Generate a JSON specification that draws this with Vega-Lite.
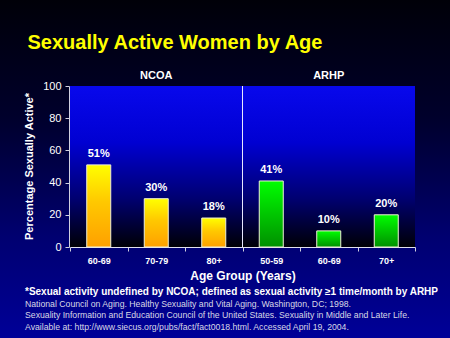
{
  "$schema": "https://vega.github.io/schema/vega-lite/v6.json",
  "width": 450,
  "height": 338,
  "padding": 0,
  "autosize": {"type": "none"},
  "title": {
    "text": "*Sexual activity undefined by NCOA; defined as sexual activity ≥1 time/month by ARHP",
    "subtitle": [
      "National Council on Aging. Healthy Sexuality and Vital Aging. Washington, DC; 1998.",
      "Sexuality Information and Education Council of the United States. Sexuality in Middle and Later Life.",
      "Available at: http://www.siecus.org/pubs/fact/fact0018.html. Accessed April 19, 2004."
    ],
    "orient": "bottom",
    "anchor": "start",
    "frame": "group",
    "offset": -51,
    "dx": 25,
    "font": "Liberation Sans",
    "fontSize": 10,
    "fontWeight": "bold",
    "color": "#ffffff",
    "subtitleFont": "Liberation Sans",
    "subtitleFontSize": 8.7,
    "subtitleColor": "#d8d8e6",
    "subtitleLineHeight": 11.3,
    "subtitlePadding": 3
  },
  "layer": [
    {
      "data": {"values": [{"group": "NCOA"}, {"group": "ARHP"}]},
      "layer": [
        {
          "mark": {
            "type": "rect",
            "fill": {
              "gradient": "linear",
              "x1": 0, "y1": 0, "x2": 0, "y2": 1,
              "stops": [
                {"offset": 0, "color": "#0808ec"},
                {"offset": 0.35, "color": "#0000d2"},
                {"offset": 0.7, "color": "#000070"},
                {"offset": 1, "color": "#000006"}
              ]
            }
          },
          "encoding": {
            "x": {
              "field": "group",
              "type": "nominal",
              "sort": null,
              "scale": {"domain": ["NCOA", "ARHP"], "range": [70, 415], "paddingInner": 0, "paddingOuter": 0},
              "axis": {
                "orient": "top",
                "offset": -86,
                "domain": false,
                "ticks": false,
                "labelAngle": 0,
                "labelPadding": 6,
                "labelFont": "Liberation Sans",
                "labelFontSize": 11,
                "labelFontWeight": "bold",
                "labelColor": "#ffffff",
                "title": "Sexually Active Women by Age",
                "titleFont": "Liberation Sans",
                "titleFontSize": 20,
                "titleFontWeight": "bold",
                "titleColor": "#ffff00",
                "titleX": 27,
                "titleY": -38,
                "titleAlign": "left",
                "titleBaseline": "alphabetic"
              }
            },
            "y": {
              "datum": 0,
              "type": "quantitative",
              "scale": {"domain": [0, 100], "range": [247, 86], "nice": false},
              "axis": {
                "orient": "left",
                "offset": -69,
                "values": [0, 20, 40, 60, 80, 100],
                "grid": false,
                "tickSize": 4,
                "tickColor": "#d0d0e0",
                "domainColor": "#d0d0e0",
                "labelPadding": 4,
                "labelFont": "Liberation Sans",
                "labelFontSize": 11,
                "labelColor": "#ffffff",
                "title": "Percentage Sexually Active*",
                "titleFont": "Liberation Sans",
                "titleFontSize": 11,
                "titleFontWeight": "bold",
                "titleColor": "#ffffff",
                "titleAngle": -90,
                "titleX": -40,
                "titleY": 166,
                "titleBaseline": "middle",
                "titleAlign": "center"
              }
            },
            "y2": {"datum": 100}
          }
        },
        {
          "transform": [{"filter": "datum.group === 'NCOA'"}],
          "mark": {"type": "rule", "color": "#e8e8ff", "strokeWidth": 1},
          "encoding": {
            "x": {
              "field": "group",
              "type": "nominal",
              "sort": null,
              "bandPosition": 1,
              "scale": {"domain": ["NCOA", "ARHP"], "range": [70, 415], "paddingInner": 0, "paddingOuter": 0},
              "axis": {
                "orient": "top",
                "offset": -86,
                "domain": false,
                "ticks": false,
                "labelAngle": 0,
                "labelPadding": 6,
                "labelFont": "Liberation Sans",
                "labelFontSize": 11,
                "labelFontWeight": "bold",
                "labelColor": "#ffffff",
                "title": "Sexually Active Women by Age",
                "titleFont": "Liberation Sans",
                "titleFontSize": 20,
                "titleFontWeight": "bold",
                "titleColor": "#ffff00",
                "titleX": 27,
                "titleY": -38,
                "titleAlign": "left",
                "titleBaseline": "alphabetic"
              }
            },
            "y": {
              "datum": 0,
              "type": "quantitative",
              "scale": {"domain": [0, 100], "range": [247, 86], "nice": false},
              "axis": {
                "orient": "left",
                "offset": -69,
                "values": [0, 20, 40, 60, 80, 100],
                "grid": false,
                "tickSize": 4,
                "tickColor": "#d0d0e0",
                "domainColor": "#d0d0e0",
                "labelPadding": 4,
                "labelFont": "Liberation Sans",
                "labelFontSize": 11,
                "labelColor": "#ffffff",
                "title": "Percentage Sexually Active*",
                "titleFont": "Liberation Sans",
                "titleFontSize": 11,
                "titleFontWeight": "bold",
                "titleColor": "#ffffff",
                "titleAngle": -90,
                "titleX": -40,
                "titleY": 166,
                "titleBaseline": "middle",
                "titleAlign": "center"
              }
            },
            "y2": {"datum": 100}
          }
        }
      ]
    },
    {
      "data": {
        "values": [
          {"cat": "NCOA|60-69", "group": "NCOA", "value": 51, "label": "51%"},
          {"cat": "NCOA|70-79", "group": "NCOA", "value": 30, "label": "30%"},
          {"cat": "NCOA|80+", "group": "NCOA", "value": 18, "label": "18%"},
          {"cat": "ARHP|50-59", "group": "ARHP", "value": 41, "label": "41%"},
          {"cat": "ARHP|60-69", "group": "ARHP", "value": 10, "label": "10%"},
          {"cat": "ARHP|70+", "group": "ARHP", "value": 20, "label": "20%"}
        ]
      },
      "encoding": {
        "x": {
          "field": "cat",
          "type": "nominal",
          "sort": null,
          "scale": {"range": [70, 415], "paddingInner": 0, "paddingOuter": 0},
          "axis": {
            "orient": "bottom",
            "offset": -91,
            "labelExpr": "split(datum.label, '|')[1]",
            "labelAngle": 0,
            "tickBand": "extent",
            "tickSize": 4,
            "tickColor": "#d0d0e0",
            "domainColor": "#e0e0f0",
            "labelPadding": 5,
            "labelFont": "Liberation Sans",
            "labelFontSize": 9,
            "labelFontWeight": "bold",
            "labelColor": "#ffffff",
            "title": "Age Group (Years)",
            "titleFont": "Liberation Sans",
            "titleFontSize": 12,
            "titleFontWeight": "bold",
            "titleColor": "#ffffff",
            "titleY": 28,
            "titleBaseline": "middle"
          }
        },
        "y": {
          "field": "value",
          "type": "quantitative",
          "scale": {"domain": [0, 100], "range": [247, 86], "nice": false},
          "axis": {
            "orient": "left",
            "offset": -69,
            "values": [0, 20, 40, 60, 80, 100],
            "grid": false,
            "tickSize": 4,
            "tickColor": "#d0d0e0",
            "domainColor": "#d0d0e0",
            "labelPadding": 4,
            "labelFont": "Liberation Sans",
            "labelFontSize": 11,
            "labelColor": "#ffffff",
            "title": "Percentage Sexually Active*",
            "titleFont": "Liberation Sans",
            "titleFontSize": 11,
            "titleFontWeight": "bold",
            "titleColor": "#ffffff",
            "titleAngle": -90,
            "titleX": -40,
            "titleY": 166,
            "titleBaseline": "middle",
            "titleAlign": "center"
          }
        }
      },
      "layer": [
        {
          "mark": {"type": "bar", "width": 24, "stroke": "#f0f0d8", "strokeWidth": 1},
          "encoding": {
            "color": {
              "condition": {
                "test": "datum.group === 'NCOA'",
                "value": {
                  "gradient": "linear",
                  "x1": 0, "y1": 0, "x2": 0, "y2": 1,
                  "stops": [
                    {"offset": 0, "color": "#ffff00"},
                    {"offset": 0.45, "color": "#ffc800"},
                    {"offset": 1, "color": "#ffa000"}
                  ]
                }
              },
              "value": {
                "gradient": "linear",
                "x1": 0, "y1": 0, "x2": 0, "y2": 1,
                "stops": [
                  {"offset": 0, "color": "#00ff00"},
                  {"offset": 0.45, "color": "#00cc00"},
                  {"offset": 1, "color": "#009000"}
                ]
              }
            }
          }
        },
        {
          "mark": {"type": "text", "baseline": "bottom", "dy": -6, "font": "Liberation Sans", "fontSize": 11, "fontWeight": "bold", "color": "#ffffff"},
          "encoding": {"text": {"field": "label", "type": "nominal"}}
        }
      ]
    }
  ],
  "resolve": {"scale": {"x": "independent"}, "axis": {"x": "independent"}},
  "config": {
    "view": {
      "stroke": null,
      "fill": {
        "gradient": "linear",
        "x1": 0, "y1": 0, "x2": 0, "y2": 1,
        "stops": [
          {"offset": 0, "color": "#000008"},
          {"offset": 0.35, "color": "#00002c"},
          {"offset": 0.7, "color": "#000070"},
          {"offset": 1, "color": "#000098"}
        ]
      }
    },
    "axis": {"grid": false}
  }
}
